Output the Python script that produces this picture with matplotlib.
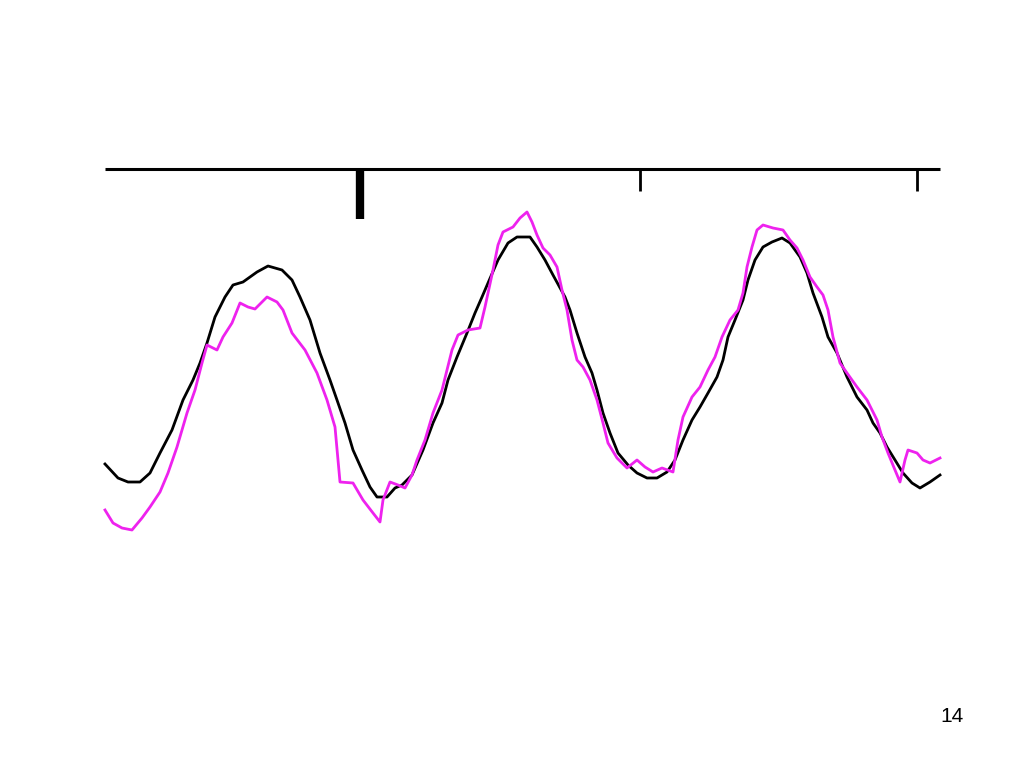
import matplotlib
matplotlib.use("Agg")
import matplotlib.pyplot as plt

# values (x = horizontal position, y = vertical level, top = small)
black_x = [105, 118, 128, 140, 150, 160, 172, 183, 193, 200, 207, 215, 225, 233, 243, 257, 268,
           282, 292, 300, 310, 320, 330, 337, 345, 353, 362, 370, 377, 387, 395,
           402, 412, 423, 433, 442, 448, 457, 467, 475, 482, 488, 498, 508, 517, 530, 537,
           545, 553, 565, 570, 577, 585, 592, 597, 603, 610, 618, 628, 637, 647, 657, 667,
           675, 683, 692, 700, 708, 717, 723, 728, 735, 743, 748, 755, 763, 772, 782, 790,
           800, 807, 813, 822, 828, 837, 847, 857, 867, 873, 880, 887, 895, 903, 912, 920,
           930, 940]
black_y = [464, 478, 482, 482, 473, 453, 430, 400, 380, 363, 343, 317, 297, 285, 282, 272, 266,
           270, 280, 297, 320, 353, 380, 400, 423, 450, 470, 487, 497, 497, 488,
           485, 475, 450, 423, 403, 380, 357, 333, 313, 297, 283, 260, 243, 237, 237, 247,
           260, 275, 297, 310, 333, 357, 373, 390, 413, 433, 453, 465, 473, 478, 478, 472,
           460, 440, 420, 407, 393, 377, 360, 337, 320, 300, 280, 260, 247, 242, 238, 243,
           257, 273, 293, 317, 337, 353, 377, 397, 410, 423, 433, 447, 460, 473, 483, 488,
           482, 475]

magenta_x = [105, 113, 122, 132, 142, 150, 160, 168, 177, 187, 195, 202, 207, 217, 223, 232,
             240, 248, 255, 267, 277, 283, 292, 305, 317, 327, 335, 340, 353, 363, 373, 380,
             383, 390, 398, 405, 412, 417, 425, 433, 442, 447, 452, 458, 468, 480, 485, 493,
             498, 503, 513, 520, 527, 532, 537, 543, 550, 557, 562, 567, 572, 577, 583, 590,
             597, 603, 608, 617, 627, 637, 645, 653, 662, 673, 678, 683, 692, 700, 708, 715,
             722, 730, 738, 743, 747, 752, 757, 763, 773, 783, 790, 797, 803, 810, 817, 823,
             828, 833, 840, 847, 857, 867, 877, 882, 888, 895, 900, 905, 908, 917, 923, 930,
             940]
magenta_y = [510, 523, 528, 530, 518, 507, 492, 473, 447, 413, 390, 363, 345, 350, 337, 323,
             303, 307, 309, 297, 302, 310, 333, 350, 373, 400, 427, 482, 483, 500, 513, 522,
             500, 482, 485, 488, 475, 460, 440, 413, 390, 370, 350, 335, 330, 328, 307, 270,
             245, 232, 227, 218, 212, 222, 235, 248, 255, 267, 290, 310, 340, 360, 367, 380,
             400, 423, 443, 458, 468, 460, 467, 472, 468, 472, 440, 417, 397, 387, 370, 357,
             337, 320, 310, 293, 267, 247, 230, 225, 228, 230, 240, 248, 260, 277, 287, 295,
             310, 337, 363, 373, 387, 400, 420, 437, 453, 470, 482, 460, 450, 453, 460, 463,
             458]

axis_x = [105, 940]
axis_y = 169
tick_x = [360, 640, 917]
tick_end = [219, 191, 191]
tick_width = [6.0, 2.0, 2.0]
page_label = "14"

fig = plt.figure(figsize=(10.24, 7.68), dpi=100)
ax = fig.add_axes([0, 0, 1, 1])
ax.set_xlim(0, 1024)
ax.set_ylim(768, 0)
ax.axis("off")

# top axis with ticks hanging down
ax.plot(axis_x, [axis_y, axis_y], color="black", lw=2.2, solid_capstyle="butt")
for tx, te, tw in zip(tick_x, tick_end, tick_width):
    ax.plot([tx, tx], [axis_y, te], color="black", lw=tw, solid_capstyle="butt")

ax.plot(black_x, black_y, color="black", lw=2.0)
ax.plot(magenta_x, magenta_y, color="#ee22ee", lw=2.0)

ax.text(952, 716, page_label, ha="center", va="center", fontsize=15,
        family="Liberation Sans", color="black")

fig.savefig("out.png", dpi=100)
